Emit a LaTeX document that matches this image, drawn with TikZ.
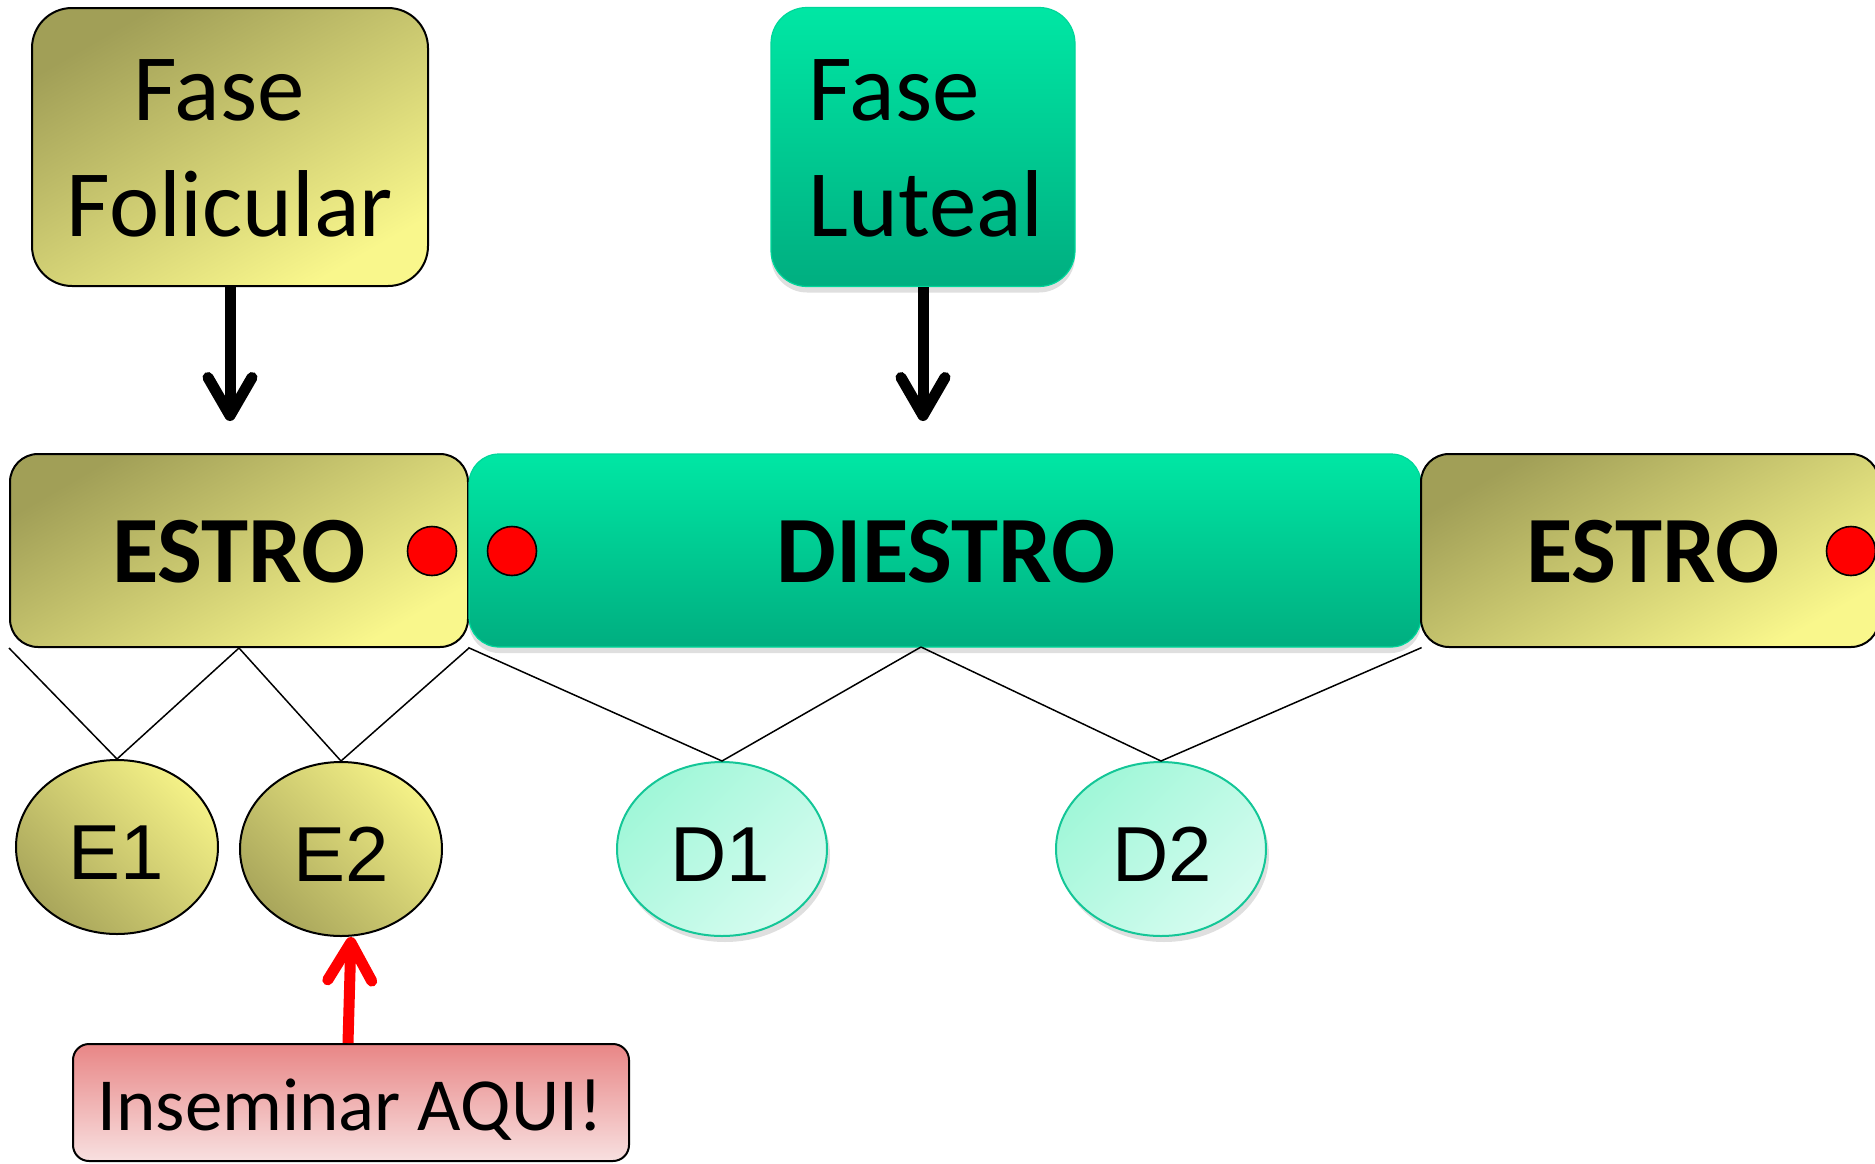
\documentclass[tikz,border=0pt]{standalone}
\usepackage{fontspec}
\setmainfont{Carlito}
\newfontfamily\arialf{Liberation Sans}
\usetikzlibrary{arrows.meta,shadows,shapes.geometric,calc}
\definecolor{oliveD}{HTML}{A19F57}
\definecolor{oliveL}{HTML}{F9F78C}
\definecolor{oliveE}{HTML}{A9A65B}
\definecolor{oliveEL}{HTML}{F4F187}
\definecolor{grnT}{HTML}{00E7A4}
\definecolor{grnB}{HTML}{00AE80}
\definecolor{grnE}{HTML}{00D69A}
\definecolor{mintA}{HTML}{A0F7D8}
\definecolor{mintB}{HTML}{D6FCF0}
\definecolor{mintE}{HTML}{14C697}
\definecolor{pinkT}{HTML}{E88686}
\definecolor{pinkB}{HTML}{F8E0E0}
\begin{document}
\begin{tikzpicture}[x=0.5pt,y=-0.5pt,
  olivebox/.style={rectangle, draw=black, line width=1pt, top color=oliveD, bottom color=oliveL, shading angle=30, inner sep=0pt},
  greenbox/.style={rectangle, draw=grnE, line width=0.6pt, top color=grnT, bottom color=grnB, inner sep=0pt,
     drop shadow={shadow xshift=0pt, shadow yshift=-3pt, opacity=0.25}},
  eell/.style={ellipse, draw=black, line width=1pt, top color=oliveEL, bottom color=oliveE, shading angle=-45,
     minimum width=101pt, minimum height=87pt, inner sep=0pt},
  dell/.style={ellipse, draw=mintE, line width=1pt, top color=mintA, bottom color=mintB, shading angle=45,
     minimum width=105pt, minimum height=87pt, inner sep=0pt,
     drop shadow={shadow xshift=1.5pt, shadow yshift=-3pt, opacity=0.25}},
  reddot/.style={circle, draw=black, line width=0.8pt, fill=red, minimum size=24.5pt, inner sep=0pt},
  fasetxt/.style={inner sep=0pt, font=\fontsize{47.5pt}{57pt}\selectfont},
  bigtxt/.style={inner sep=0pt, font=\bfseries\fontsize{47.5pt}{57pt}\selectfont},
  elltxt/.style={inner sep=0pt, font=\arialf\fontsize{39pt}{47pt}\selectfont},
  instxt/.style={inner sep=0pt, font=\fontsize{37.5pt}{45pt}\selectfont},
  conn/.style={draw=black, line width=0.75pt},
  bigarrow/.style={draw=black, line width=5.5pt, -{Straight Barb[round, length=19pt, width=22pt]}},
  redarrow/.style={draw=red, line width=5.5pt, -{Straight Barb[round, length=19pt, width=22pt]}}
]
\useasboundingbox (0,0) rectangle (1875,1163);
\clip (0,0) rectangle (1875,1163);

% top phase boxes
\node[olivebox, rounded corners=20pt, minimum width=198pt, minimum height=139pt] (fol) at (230,147) {};
\node[fasetxt, anchor=base] (folA) at (219,120) {Fase};
\node[fasetxt, anchor=base] (folB) at (230,236) {Folicular};

\node[greenbox, rounded corners=18pt, minimum width=152pt, minimum height=139.5pt] (lut) at (923,147) {};
\node[fasetxt, anchor=base west] (lutA) at (808,120) {Fase};
\node[fasetxt, anchor=base west] (lutB) at (808,236) {Luteal};

% arrows down
\coordinate (folTip) at (230,421);
\coordinate (lutTip) at (923,421);
\draw[bigarrow] (fol.south) -- (folTip);
\draw[bigarrow] (lut.south) -- (lutTip);

% cycle bar
\node[olivebox, rounded corners=14pt, minimum width=229pt, minimum height=96.5pt] (estroL) at (239,550.5) {};
\node[greenbox, rounded corners=15pt, minimum width=476pt, minimum height=96.5pt] (diestro) at (945,550.5) {};
\node[olivebox, rounded corners=14pt, minimum width=229pt, minimum height=96.5pt] (estroR) at (1650,550.5) {};

\node[bigtxt, anchor=base] (estroLt) at (239,582) {ESTRO};
\node[bigtxt, anchor=base] (diestrot) at (946,582) {DIESTRO};
\node[bigtxt, anchor=base] (estroRt) at (1653,582) {ESTRO};

\node[reddot] (dot1) at (432,551) {};
\node[reddot] (dot2) at (512,551) {};
\node[reddot] (dot3) at (1851,551) {};

% sub-phase ellipses
\node[eell] (E1) at (117,847) {};
\node[eell] (E2) at (341,849) {};
\node[dell] (D1) at (722,849) {};
\node[dell] (D2) at (1161,849) {};

\node[elltxt, anchor=base] (E1t) at (116,879) {E1};
\node[elltxt, anchor=base] (E2t) at (341,881) {E2};
\node[elltxt, anchor=base] (D1t) at (720,881) {D1};
\node[elltxt, anchor=base] (D2t) at (1162,881) {D2};

% connectors
\coordinate (dapex) at (921,647);
\draw[conn] (estroL.south west) -- (E1.north) -- (estroL.south);
\draw[conn] (estroL.south) -- (E2.north) -- (estroL.south east);
\draw[conn] (diestro.south west) -- (D1.north) -- (dapex);
\draw[conn] (dapex) -- (D2.north) -- (diestro.south east);

% inseminate box
\node[rectangle, draw=black, line width=1pt, top color=pinkT, bottom color=pinkB, rounded corners=8pt,
      minimum width=278pt, minimum height=58.5pt, inner sep=0pt] (ins) at (351,1102.5) {};
\node[instxt, anchor=base] (inst) at (350,1130) {Inseminar AQUI!};
\draw[redarrow] ([xshift=-1.5pt]ins.north) -- ([xshift=5pt]E2.south);
\end{tikzpicture}
\end{document}
